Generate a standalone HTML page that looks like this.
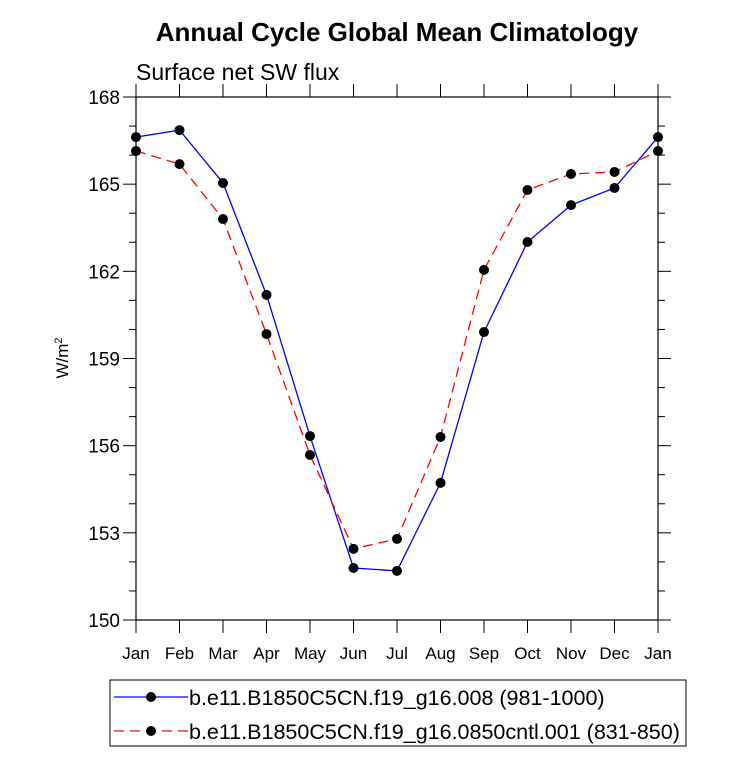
<!DOCTYPE html>
<html><head><meta charset="utf-8"><style>
body{margin:0;background:#fff;}
svg text{font-family:"Liberation Sans",sans-serif;}
</style></head><body>
<svg id="c" width="733" height="770" xmlns="http://www.w3.org/2000/svg">
<text x="397" y="41" text-anchor="middle" font-size="26" font-weight="bold">Annual Cycle Global Mean Climatology</text>
<text x="136" y="80" font-size="23">Surface net SW flux</text>
<text transform="translate(68,358) rotate(-90)" text-anchor="middle" font-size="17">W/m<tspan dy="-6" font-size="11">2</tspan></text>
<g id="axes"></g>
<g id="series"></g>
<rect x="110" y="680" width="576" height="66" fill="none" stroke="#000" stroke-width="1"/>
<g>
<line x1="114" y1="697" x2="188" y2="697" stroke="#0000ff" stroke-width="1.3"/>
<circle cx="151" cy="697" r="5" fill="#000"/>
<text x="189" y="705" font-size="21.5">b.e11.B1850C5CN.f19_g16.008 (981-1000)</text>
</g>
<g>
<line x1="114" y1="731" x2="188" y2="731" stroke="#ff0000" stroke-width="1.3" stroke-dasharray="10,6"/>
<circle cx="151" cy="731" r="5" fill="#000"/>
<text x="189" y="739" font-size="21.5">b.e11.B1850C5CN.f19_g16.0850cntl.001 (831-850)</text>
</g>
</svg>
<script>
const months=["Jan","Feb","Mar","Apr","May","Jun","Jul","Aug","Sep","Oct","Nov","Dec","Jan"];
const yTicks=[150,153,156,159,162,165,168];
const series1=[166.62,166.86,165.04,161.19,156.33,151.79,151.69,154.72,159.91,163.01,164.28,164.87,166.62];
const series2=[166.14,165.69,163.80,159.84,155.68,152.45,152.79,156.30,162.05,164.80,165.35,165.42,166.14];
const L=136,R=658,T=97,B=620,ymin=150,ymax=168;
const NS="http://www.w3.org/2000/svg";
function xs(i){return L+(R-L)*i/(months.length-1);}
function ys(v){return B-(v-ymin)/(ymax-ymin)*(B-T);}
function mk(t,a,p){const e=document.createElementNS(NS,t);for(const k in a)e.setAttribute(k,a[k]);p.appendChild(e);return e;}
const ax=document.getElementById('axes');
const fr=mk('rect',{x:L,y:T,width:R-L,height:B-T,fill:'none',stroke:'#000','stroke-width':1.2},ax);


months.forEach((m,i)=>{
 const x=xs(i);
 mk('line',{x1:x,y1:B,x2:x,y2:B+13,stroke:'#000','stroke-width':1},ax);
 mk('line',{x1:x,y1:T,x2:x,y2:T-13,stroke:'#000','stroke-width':1},ax);
 const t=mk('text',{x:x,y:B+39,'text-anchor':'middle','font-size':17},ax);t.textContent=m;
 
 
});
for(let v=ymin;v<=ymax;v++){
 const y=ys(v),maj=(v-ymin)%3===0,len=maj?13:7;
 mk('line',{x1:L,y1:y,x2:L-len,y2:y,stroke:'#000','stroke-width':1},ax);
 mk('line',{x1:R,y1:y,x2:R+len,y2:y,stroke:'#000','stroke-width':1},ax);
}
yTicks.forEach(v=>{
 const t=mk('text',{x:L-16,y:ys(v)+7,'text-anchor':'end','font-size':19},ax);t.textContent=v;
 
 
});
const sg=document.getElementById('series');
function draw(d,col,dash,name){
 const g=mk('g',{},sg);
 
 
 mk('polyline',{points:d.map((v,i)=>xs(i)+','+ys(v)).join(' '),fill:'none',stroke:col,'stroke-width':1.3,'stroke-dasharray':dash},g);
 d.forEach((v,i)=>{const c=mk('circle',{cx:xs(i),cy:ys(v),r:5,fill:'#000'},g);
  
  });
}
draw(series1,'#0000ff','none','series-008');
draw(series2,'#ff0000','10,6','series-cntl');
</script>
</body></html>
